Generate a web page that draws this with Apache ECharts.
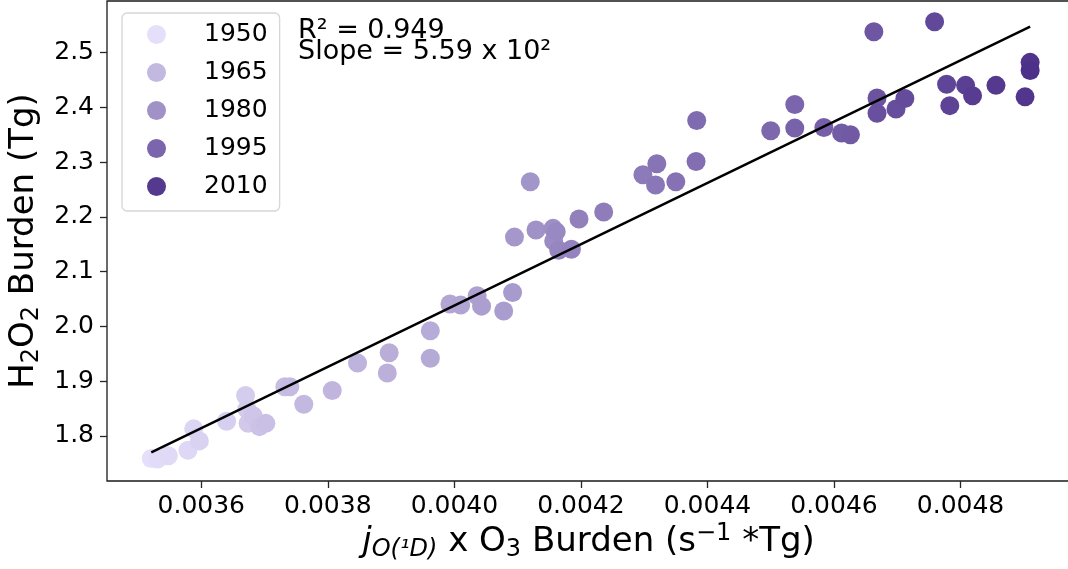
<!DOCTYPE html>
<html>
<head>
<meta charset="utf-8">
<script src="https://cdn.jsdelivr.net/npm/echarts@6/dist/echarts.min.js"></script>
<style>
html,body{margin:0;padding:0;background:#fff;}
#chart{width:1068px;height:569px;}
</style>
</head>
<body>
<div id="chart"></div>
<script>
// ---- data ----
const years = [1950,1951,1952,1953,1954,1955,1956,1957,1958,1959,1960,1961,1962,1963,1964,1965,
  1966,1967,1968,1969,1970,1971,1972,1973,1974,1975,1976,1977,1978,1979,1980,1981,1982,1983,1984,
  1985,1986,1987,1988,1989,1990,1991,1992,1993,1994,1995,1996,1997,1998,1999,2000,2001,2002,2003,
  2004,2005,2006,2007,2008,2009,2010,2011,2012,2013];
const jO3Burden = [0.003521,0.003531,0.003548,0.003579,0.003588,0.003597,0.003640,0.003670,0.003672,
  0.003674,0.003682,0.003692,0.003702,0.003732,0.003740,0.003762,0.003807,0.003847,0.003894,0.003897,
  0.003962,0.003962,0.003993,0.004010,0.004036,0.004043,0.004078,0.004092,0.004095,0.004120,0.004129,
  0.004156,0.004157,0.004161,0.004165,0.004185,0.004197,0.004236,0.004298,0.004318,0.004320,0.004350,
  0.004382,0.004383,0.004500,0.004538,0.004538,0.004584,0.004612,0.004626,0.004663,0.004668,0.004668,
  0.004698,0.004712,0.004759,0.004778,0.004783,0.004808,0.004819,0.004856,0.004902,0.004910,0.004910];
const h2o2Burden = [1.759,1.758,1.764,1.774,1.813,1.791,1.827,1.874,1.849,1.823,1.837,1.817,1.823,
  1.890,1.890,1.858,1.883,1.933,1.915,1.952,1.992,1.942,2.041,2.039,2.056,2.037,2.028,2.062,2.163,
  2.264,2.176,2.179,2.156,2.173,2.139,2.141,2.196,2.209,2.277,2.258,2.297,2.264,2.301,2.376,2.357,
  2.405,2.362,2.363,2.353,2.350,2.538,2.417,2.389,2.397,2.416,2.556,2.442,2.403,2.440,2.421,2.440,
  2.419,2.482,2.467];
const fitX = [0.003521, 0.004910];
const fitY = [1.770, 2.547];
const legendYears = [1950, 1965, 1980, 1995, 2010];
const xTicks = [0.0036, 0.0038, 0.0040, 0.0042, 0.0044, 0.0046, 0.0048];
const yTicks = [1.8, 1.9, 2.0, 2.1, 2.2, 2.3, 2.4, 2.5];
const annotationLines = ['R² = 0.949', 'Slope = 5.59 x 10²'];

// ---- style ----
const legendColors = ['#e5dffa', '#c3b8e0', '#a092c7', '#7b65ac', '#55398f'];
const FONT = 'DejaVu Sans';
function hex2rgb(h){return [parseInt(h.substr(1,2),16),parseInt(h.substr(3,2),16),parseInt(h.substr(5,2),16)];}
function yearColor(y){
  let i = 0;
  while (i < legendYears.length - 2 && y > legendYears[i+1]) i++;
  const t = (y - legendYears[i]) / (legendYears[i+1] - legendYears[i]);
  const a = hex2rgb(legendColors[i]), b = hex2rgb(legendColors[i+1]);
  const c = a.map((v,k)=>Math.max(0,Math.min(255,Math.round(v + (b[k]-v)*t))));
  return 'rgb(' + c.join(',') + ')';
}

const scatterData = years.map((yr, i) => ({
  value: [jO3Burden[i], h2o2Burden[i]],
  itemStyle: { color: yearColor(yr) }
}));

const legendSeries = legendYears.map((yr, i) => ({
  name: String(yr), type: 'scatter', data: [], symbol: 'circle',
  itemStyle: { color: legendColors[i], opacity: 1 }
}));

const MAIN = 34, SUB = 24;
const titleRich = {
  m: { fontFamily: FONT, fontSize: MAIN, color: '#000', lineHeight: 40 },
  it: { fontFamily: FONT, fontStyle: 'italic', fontSize: MAIN, color: '#000', lineHeight: 40 },
  itsub: { fontFamily: FONT, fontStyle: 'italic', fontSize: SUB, color: '#000', lineHeight: 10, verticalAlign: 'bottom' },
  s: { fontFamily: FONT, fontSize: SUB, color: '#000', lineHeight: 10, verticalAlign: 'bottom' },
  sup: { fontFamily: FONT, fontSize: SUB, color: '#000', lineHeight: 6, verticalAlign: 'top' }
};

const chart = echarts.init(document.getElementById('chart'), null, {renderer: 'canvas'});
chart.setOption({
  animation: false,
  backgroundColor: '#fff',
  grid: {
    left: 107, right: -2, top: 1, bottom: 88,
    show: true, borderColor: '#1a1a1a', borderWidth: 1.3,
    outerBoundsMode: 'none'
  },
  legend: {
    data: legendYears.map(String),
    orient: 'vertical', left: 122, top: 13,
    icon: 'circle', itemWidth: 19, itemHeight: 19, itemGap: 13,
    padding: [9, 12, 12, 25],
    borderColor: '#d6d6d6', borderWidth: 1.3, borderRadius: 5,
    backgroundColor: 'rgba(255,255,255,0.8)',
    selectedMode: false,
    textStyle: { fontFamily: FONT, fontSize: 25, color: '#000', lineHeight: 25, padding: [0, 0, 0, 33] }
  },
  xAxis: {
    type: 'value', min: 0.003451, max: 0.004973,
    splitLine: { show: false },
    axisLine: { show: false },
    axisTick: { show: true, length: 7, lineStyle: { color: '#262626', width: 1.3 }, customValues: xTicks },
    axisLabel: { customValues: xTicks, formatter: v => v.toFixed(4), fontFamily: FONT, fontSize: 25, color: '#000', margin: 13 },
    name: '{it|j}{itsub|O(¹D)}{m| x O}{s|3}{m| Burden (s}{sup|−1}{m| *Tg)}',
    nameLocation: 'middle', nameGap: 41, nameMoveOverlap: false,
    nameTextStyle: { color: '#000', fontFamily: FONT, fontSize: MAIN, rich: titleRich }
  },
  yAxis: {
    type: 'value', min: 1.7178, max: 2.594,
    splitLine: { show: false },
    axisLine: { show: false },
    axisTick: { show: true, length: 7, lineStyle: { color: '#262626', width: 1.3 }, customValues: yTicks },
    axisLabel: { customValues: yTicks, formatter: v => v.toFixed(1), fontFamily: FONT, fontSize: 25, color: '#000', margin: 13 },
    name: '{m|H}{s|2}{m|O}{s|2}{m| Burden (Tg)}',
    nameLocation: 'middle', nameGap: 63, nameRotate: 90, nameMoveOverlap: false,
    nameTextStyle: { color: '#000', fontFamily: FONT, fontSize: MAIN, rich: titleRich }
  },
  graphic: [{
    type: 'text', left: 298, top: 17, z: 10,
    style: {
      text: annotationLines.join('\n'),
      fill: '#000', font: '27px "DejaVu Sans"', lineHeight: 21
    }
  }],
  series: [
    {
      type: 'scatter', data: scatterData, symbol: 'circle', symbolSize: 19, z: 2,
      itemStyle: { opacity: 1 }
    },
    {
      type: 'line', data: fitX.map((x, i) => [x, fitY[i]]), symbol: 'none', z: 3,
      lineStyle: { color: '#000', width: 2.5 }, silent: true
    }
  ].concat(legendSeries)
});
</script>
</body>
</html>
